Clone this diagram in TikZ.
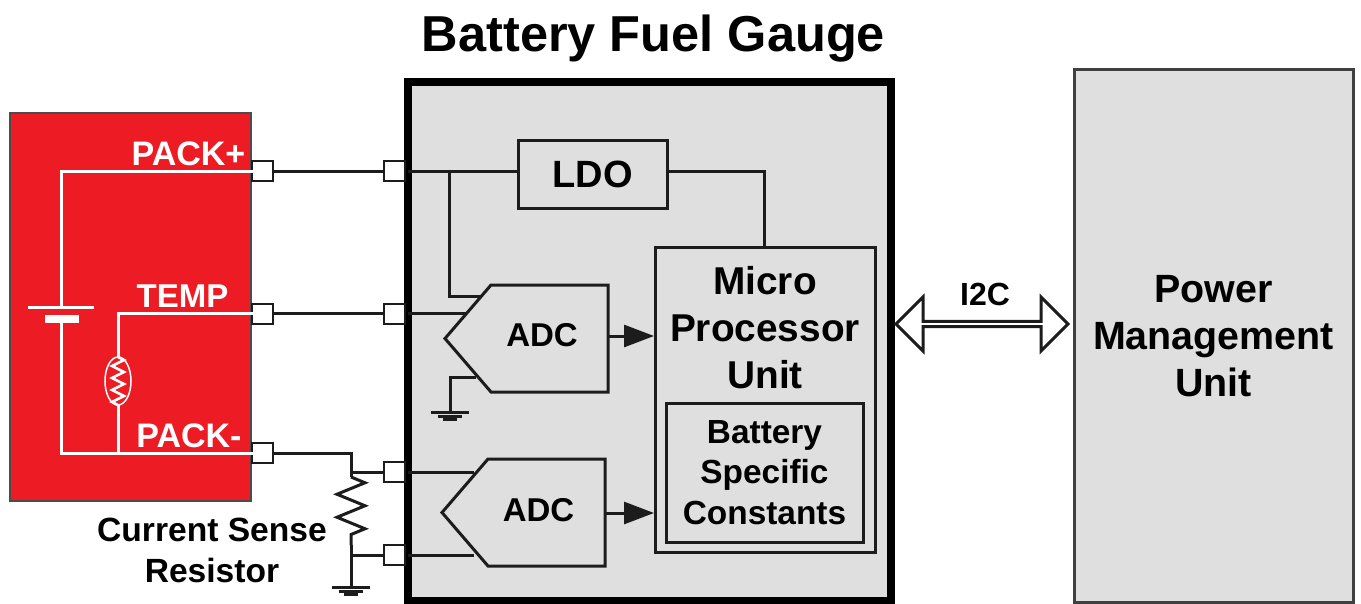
\documentclass[tikz,border=0pt]{standalone}
\usepackage{fontspec}
\setmainfont{Liberation Sans}
\usepackage{tikz}
\usetikzlibrary{calc,arrows.meta,shapes.arrows,shapes.geometric,decorations.pathmorphing}
\definecolor{packred}{HTML}{ED1C24}
\definecolor{chipgray}{HTML}{DFDFDF}
\definecolor{inkline}{HTML}{1C1C1C}
\tikzset{
	x=1pt,y=-1pt,
	wire/.style = {draw=inkline,line width=3pt},
	whitewire/.style = {draw=white,line width=3pt},
	pinbox/.style = {draw=inkline,fill=white,line width=2pt,minimum width=21pt,minimum height=20pt,inner sep=0pt,outer sep=0pt},
	blockbox/.style = {draw=inkline,fill=chipgray,line width=3pt,inner sep=0pt,outer sep=0pt,font=\bfseries\fontsize{33}{40}\selectfont,align=center},
	plaintext/.style = {inner sep=0pt,outer sep=0pt,font=\bfseries\fontsize{33}{40}\selectfont,align=center},
	packlabel/.style = {plaintext,text=white,font=\bfseries\fontsize{34}{40}\selectfont},
	earth/.pic = {
		\draw[wire] (-19,0) -- (19,0);
		\draw[wire] (-12,4) -- (12,4);
		\draw[wire] (-7,7.5) -- (7,7.5);
	},
	adcbox/.pic = {
		\draw[wire,fill=chipgray,line join=miter] (-46,0) -- (0,-53.5) -- (117,-53.5) -- (117,53.5) -- (0,53.5) -- cycle;
	}
}
\begin{document}
\begin{tikzpicture}
	\useasboundingbox (0,0) rectangle (1361,603);

	\node[plaintext,font=\bfseries\fontsize{50.5}{60}\selectfont] (title) at (653.5,39) {Battery Fuel Gauge};

	% battery pack
	\node[draw=black!70,fill=packred,line width=2pt,minimum width=241pt,minimum height=388pt,inner sep=0pt,outer sep=0pt] (pack) at (130.5,307) {};
	\node[pinbox] (pinplus) at (262,171) {};
	\node[pinbox] (pintemp) at (262,313.5) {};
	\node[pinbox] (pinminus) at (262,453) {};
	\node[packlabel] (lblplus) at (188.5,154) {PACK+};
	\node[plaintext,text=white] (lbltemp) at (182.5,296) {TEMP};
	\node[packlabel] (lblminus) at (189,436) {PACK-};
	\coordinate (cellplus) at (61,307);
	\coordinate (cellminus) at (61,319);
	\coordinate (thermtop) at (118,357);
	\coordinate (thermbot) at (118,405);
	\draw[whitewire] (pinplus.center) -- (pinplus.center -| cellplus) -- (cellplus);
	\draw[whitewire] (pinminus.center) -- (pinminus.center -| cellminus) -- (cellminus);
	\draw[whitewire] (28,307) -- (94,307);
	\draw[white,line width=8pt] (45,319) -- (79,319);
	\draw[whitewire] (pintemp.center) -- (pintemp.center -| thermtop) -- (thermtop);
	\draw[whitewire] (thermbot) -- (pinminus.center -| thermbot);
	\node[draw=white,line width=1.5pt,ellipse,minimum width=26pt,minimum height=48pt,inner sep=0pt] (therm) at (118,381) {};
	\draw[white,line width=2.5pt,decorate,decoration={zigzag,segment length=12pt,amplitude=6pt}] (thermtop) -- (thermbot);

	% gauge
	\node[draw=black,fill=chipgray,line width=8pt,minimum width=483pt,minimum height=519pt,inner sep=0pt,outer sep=0pt] (gauge) at (649,341.5) {};
	\node[pinbox] (inplus) at (394.5,171) {};
	\node[pinbox] (intemp) at (394.5,313.5) {};
	\node[pinbox] (insensea) at (394.5,472) {};
	\node[pinbox] (insenseb) at (394.5,555) {};
	\node[blockbox,minimum width=149pt,minimum height=68pt,font=\bfseries\fontsize{38}{44}\selectfont] (ldo) at (592.5,174) {LDO};
	\node[blockbox,minimum width=220pt,minimum height=305pt] (mpu) at (765,399.5) {};
	\node[plaintext,font=\bfseries\fontsize{38.8}{47}\selectfont] (mpulabel) at (765,327.5) {Micro\\Processor\\Unit};
	\node[blockbox,minimum width=197pt,minimum height=139pt,font=\bfseries\fontsize{33.4}{40.5}\selectfont] (constants) at (764.5,472.5) {Battery\\Specific\\Constants};

	\pic at (491,338.5) {adcbox};
	\pic at (488,512.5) {adcbox};
	\node[plaintext] (adcone) at (542,335) {ADC};
	\node[plaintext] (adctwo) at (538.5,510) {ADC};

	% wiring
	\coordinate (ldotap) at (449,171);
	\coordinate (adconeref) at (480,296);
	\coordinate (adconein) at (466,313.5);
	\coordinate (adconegnd) at (476,377);
	\coordinate (gndone) at (450,412);
	\coordinate (adctwoa) at (474,472);
	\coordinate (adctwob) at (474,555);
	\coordinate (sensetop) at (351,472);
	\coordinate (sensebot) at (351,555);
	\coordinate (gndtwo) at (351,587);
	\coordinate (mputap) at (764,247);
	\draw[wire] (pinplus) -- (inplus);
	\draw[wire] (pintemp) -- (intemp);
	\draw[wire] (pinminus.east) -- (pinminus.east -| sensetop) -- (sensetop) -- (insensea.west);
	\draw[wire] (sensetop) -- ++(0,5) coordinate (resa);
	\draw[wire,decorate,decoration={zigzag,segment length=23pt,amplitude=14pt}] (resa) -- ($(sensebot)+(0,-10)$) coordinate (resb);
	\draw[wire] (resb) -- (gndtwo);
	\draw[wire] (sensebot) -- (insenseb.west);
	\pic at (gndtwo) {earth};
	\draw[wire] (gauge.west |- inplus) -- (ldo.west |- inplus);
	\draw[wire] (ldotap) |- (adconeref);
	\draw[wire] (gauge.west |- intemp) -- (adconein);
	\draw[wire] (adconegnd) -| (gndone);
	\pic at (gndone) {earth};
	\draw[wire] (gauge.west |- adctwoa) -- (adctwoa);
	\draw[wire] (gauge.west |- adctwob) -- (adctwob);
	\draw[wire] (ldo.east |- inplus) -| (mputap);
	\draw[wire,-{Triangle[length=30pt,width=22pt]}] (608,336) -- (654,336);
	\draw[wire,-{Triangle[length=30pt,width=22pt]}] (605,513) -- (654,513);

	% host side
	\node[draw=black!75,fill=chipgray,line width=3pt,minimum width=279pt,minimum height=533pt,inner sep=0pt,outer sep=0pt,plaintext,font=\bfseries\fontsize{39.4}{47}\selectfont] (pmu) at (1213.5,336) {Power\\Management\\Unit};
	\node[double arrow,draw=inkline,fill=white,line width=3pt,minimum width=54pt,minimum height=172pt,double arrow head extend=14pt,inner sep=0pt,outer sep=0pt] (bus) at (982,324) {};
	\node[plaintext,font=\bfseries\fontsize{32}{38}\selectfont] (buslabel) at (985,294) {I2C};

	\node[plaintext,font=\bfseries\fontsize{33.6}{41}\selectfont] (senselabel) at (212,550.5) {Current Sense\\Resistor};
\end{tikzpicture}
\end{document}
